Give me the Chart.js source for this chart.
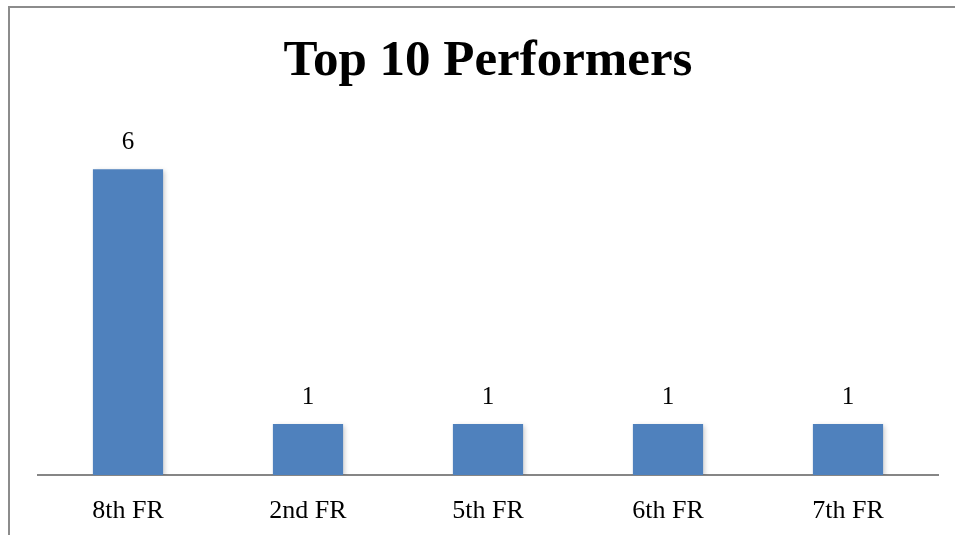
<!DOCTYPE html>
<html>
<head>
<meta charset="utf-8">
<script src="https://cdn.jsdelivr.net/npm/chart.js@4/dist/chart.umd.min.js"></script>
<style>
  html, body { margin: 0; padding: 0; background: #fff; }
  #wrap { position: relative; width: 955px; height: 535px; overflow: hidden; }
  #frame {
    position: absolute; left: 8px; top: 6px; right: -10px; bottom: -10px;
    border-left: 2px solid #8c8c8c; border-top: 2px solid #8c8c8c;
  }
  #chart { position: absolute; left: 0; top: 0; }
</style>
</head>
<body>
<div id="wrap">
  <div id="frame"></div>
  <canvas id="chart" width="955" height="535"></canvas>
</div>
<script>
const categories = ['8th FR', '2nd FR', '5th FR', '6th FR', '7th FR'];
const counts = [6, 1, 1, 1, 1];

const SERIF = "'Liberation Serif', 'DejaVu Serif', serif";

// soft drop shadow under the bars
const barShadow = {
  id: 'barShadow',
  beforeDatasetsDraw(chart) {
    const ctx = chart.ctx;
    ctx.save();
    ctx.shadowColor = 'rgba(0, 0, 0, 0.22)';
    ctx.shadowBlur = 5;
    ctx.shadowOffsetX = 2;
    ctx.shadowOffsetY = 2;
  },
  afterDatasetsDraw(chart) {
    chart.ctx.restore();
  },
};

// value above each bar
const valueLabels = {
  id: 'valueLabels',
  afterDraw(chart) {
    const ctx = chart.ctx;
    const meta = chart.getDatasetMeta(0);
    ctx.save();
    ctx.font = `25px ${SERIF}`;
    ctx.fillStyle = '#000';
    ctx.textAlign = 'center';
    ctx.textBaseline = 'middle';
    meta.data.forEach((bar, i) => {
      ctx.fillText(String(counts[i]), bar.x, bar.y - 27);
    });
    ctx.restore();
  },
};

new Chart(document.getElementById('chart'), {
  type: 'bar',
  data: {
    labels: categories,
    datasets: [{
      data: counts,
      backgroundColor: '#4f81bd',
      borderWidth: 0,
      categoryPercentage: 1,
      barPercentage: 0.39,
    }],
  },
  options: {
    responsive: false,
    animation: false,
    layout: { padding: { left: 38, right: 17, top: 0, bottom: 0 } },
    plugins: {
      legend: { display: false },
      tooltip: { enabled: false },
      title: {
        display: true,
        text: 'Top 10 Performers',
        color: '#000',
        font: { family: SERIF, size: 51, weight: 'bold', lineHeight: 1.2 },
        padding: { top: 31, bottom: 26 },
      },
    },
    scales: {
      x: {
        grid: { display: false, drawTicks: false },
        border: { display: true, color: '#868686', width: 2 },
        ticks: {
          color: '#000',
          padding: 21,
          font: { family: SERIF, size: 26, lineHeight: 1.2 },
        },
        // keep the axis strip a fixed height under the plot
        afterFit(scale) {
          scale.height = 60;
        },
      },
      y: {
        display: false,
        min: 0,
        max: 7,
      },
    },
  },
  plugins: [barShadow, valueLabels],
});
</script>
</body>
</html>
